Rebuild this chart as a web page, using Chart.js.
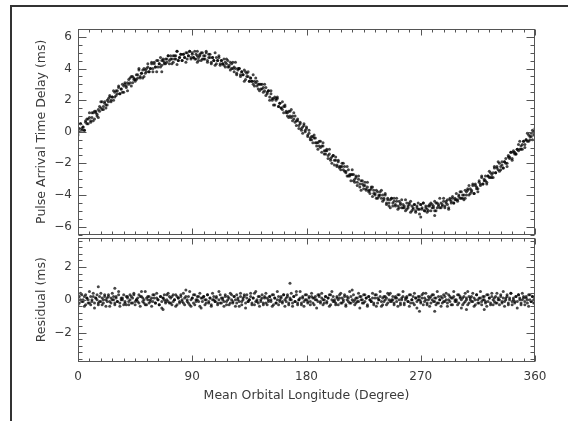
<!DOCTYPE html>
<html>
<head>
<meta charset="utf-8">
<script src="https://cdn.jsdelivr.net/npm/chart.js@4"></script>
<style>
html, body { margin: 0; padding: 0; background: #fff; }
#page { position: relative; width: 568px; height: 421px; overflow: hidden; }
#frame { position: absolute; left: 10px; top: 5px; width: 600px; height: 450px; border-top: 2px solid #333; border-left: 2px solid #333; }
#top { position: absolute; left: 0; top: 0; }
#bot { position: absolute; left: 0; top: 236px; }
</style>
</head>
<body>
<div id="page">
  <div id="frame"></div>
  <canvas id="top" width="568" height="236"></canvas>
  <canvas id="bot" width="568" height="185"></canvas>
</div>
<script>
// mean orbital longitude of each sample (degree)
var longitude = [
  0,1,2,3,4,5,6,7,8,9,10,11,12,13,14,15,16,17,18,19,
  20,21,22,23,24,25,26,27,28,29,30,31,32,33,34,35,36,37,38,39,
  40,41,42,43,44,45,46,47,48,49,50,51,52,53,54,55,56,57,58,59,
  60,61,62,63,64,65,66,67,68,69,70,71,72,73,74,75,76,77,78,79,
  80,81,82,83,84,85,86,87,88,89,90,91,92,93,94,95,96,97,98,99,
  100,101,102,103,104,105,106,107,108,109,110,111,112,113,114,115,116,117,118,119,
  120,121,122,123,124,125,126,127,128,129,130,131,132,133,134,135,136,137,138,139,
  140,141,142,143,144,145,146,147,148,149,150,151,152,153,154,155,156,157,158,159,
  160,161,162,163,164,165,166,167,168,169,170,171,172,173,174,175,176,177,178,179,
  180,181,182,183,184,185,186,187,188,189,190,191,192,193,194,195,196,197,198,199,
  200,201,202,203,204,205,206,207,208,209,210,211,212,213,214,215,216,217,218,219,
  220,221,222,223,224,225,226,227,228,229,230,231,232,233,234,235,236,237,238,239,
  240,241,242,243,244,245,246,247,248,249,250,251,252,253,254,255,256,257,258,259,
  260,261,262,263,264,265,266,267,268,269,270,271,272,273,274,275,276,277,278,279,
  280,281,282,283,284,285,286,287,288,289,290,291,292,293,294,295,296,297,298,299,
  300,301,302,303,304,305,306,307,308,309,310,311,312,313,314,315,316,317,318,319,
  320,321,322,323,324,325,326,327,328,329,330,331,332,333,334,335,336,337,338,339,
  340,341,342,343,344,345,346,347,348,349,350,351,352,353,354,355,356,357,358,359,
  360
];

// pulse arrival time delay (ms), first pass of samples
var delayA = [
  0.2,0.0,0.5,0.1,0.3,0.1,0.6,0.8,0.5,0.9, 0.7,1.2,0.7,1.3,1.2,1.0,1.4,1.3,1.9,1.4,
  1.6,1.9,1.5,2.0,1.9,2.2,1.9,2.2,2.6,2.2, 2.6,2.4,2.8,2.4,2.7,2.5,2.9,3.1,2.8,3.1,
  3.0,3.4,2.9,3.5,3.3,3.2,3.6,3.4,4.0,3.4, 3.7,3.9,3.5,3.9,3.8,4.1,3.8,4.0,4.4,4.0,
  4.4,4.1,4.5,4.1,4.3,4.1,4.5,4.6,4.3,4.6, 4.4,4.8,4.3,4.8,4.6,4.4,4.8,4.6,5.1,4.5,
  4.7,4.9,4.5,4.9,4.7,5.0,4.6,4.8,5.1,4.7, 5.0,4.7,5.1,4.6,4.8,4.5,4.9,5.0,4.6,4.8,
  4.6,5.0,4.4,4.9,4.7,4.4,4.7,4.5,5.0,4.3, 4.5,4.7,4.2,4.5,4.3,4.6,4.1,4.3,4.5,4.1,
  4.4,4.0,4.4,3.8,4.0,3.6,4.0,4.0,3.6,3.8, 3.6,3.9,3.3,3.7,3.5,3.2,3.4,3.2,3.6,2.9,
  3.1,3.2,2.7,3.0,2.7,3.0,2.5,2.6,2.8,2.4, 2.6,2.2,2.6,2.0,2.1,1.7,2.1,2.1,1.6,1.8,
  1.5,1.9,1.2,1.6,1.3,1.0,1.3,1.0,1.4,0.7, 0.8,1.0,0.4,0.7,0.4,0.6,0.1,0.3,0.5,0.0,
  0.2,-0.2,0.1,-0.5,-0.3,-0.7,-0.4,-0.4,-0.9,-0.7, -0.9,-0.6,-1.3,-0.9,-1.2,-1.4,-1.2,-1.5,-1.1,-1.8,
  -1.6,-1.5,-2.1,-1.8,-2.1,-1.8,-2.3,-2.2,-2.0,-2.4, -2.2,-2.6,-2.2,-2.8,-2.7,-3.1,-2.7,-2.7,-3.2,-2.9,
  -3.2,-2.8,-3.5,-3.1,-3.3,-3.6,-3.4,-3.6,-3.2,-3.8, -3.7,-3.5,-4.1,-3.7,-4.0,-3.7,-4.2,-4.0,-3.8,-4.2,
  -4.0,-4.3,-3.9,-4.5,-4.3,-4.7,-4.3,-4.2,-4.7,-4.4, -4.6,-4.2,-4.9,-4.4,-4.6,-4.8,-4.6,-4.8,-4.3,-4.9,
  -4.7,-4.5,-5.1,-4.7,-4.9,-4.6,-5.0,-4.8,-4.5,-4.9, -4.6,-4.9,-4.5,-5.0,-4.8,-5.1,-4.7,-4.6,-5.0,-4.6,
  -4.8,-4.4,-5.0,-4.5,-4.7,-4.8,-4.5,-4.7,-4.2,-4.7, -4.5,-4.3,-4.8,-4.3,-4.5,-4.2,-4.5,-4.3,-3.9,-4.3,
  -4.0,-4.2,-3.8,-4.2,-4.0,-4.2,-3.8,-3.6,-4.0,-3.6, -3.8,-3.3,-3.9,-3.3,-3.5,-3.6,-3.2,-3.4,-2.8,-3.3,
  -3.1,-2.8,-3.3,-2.8,-2.9,-2.6,-2.9,-2.6,-2.2,-2.6, -2.2,-2.4,-2.0,-2.4,-2.1,-2.3,-1.9,-1.7,-2.0,-1.6,
  -1.7,-1.3,-1.8,-1.2,-1.3,-1.4,-1.1,-1.2,-0.6,-1.1, -0.8,-0.6,-1.0,-0.5,-0.6,-0.2,-0.5,-0.3,0.1,-0.2,
  0.2
];

// pulse arrival time delay (ms), second pass of samples
var delayB = [
  -0.2,0.2,0.5,0.2,0.3,0.1,0.7,0.5,0.8,1.2, 0.6,0.9,1.2,0.8,1.3,1.1,0.9,1.6,1.5,1.9,
  1.4,1.8,1.7,1.7,2.1,2.3,2.0,2.2,2.0,2.5, 2.3,2.6,2.9,2.4,2.7,3.0,2.5,3.0,2.9,2.6,
  3.3,3.1,3.5,3.1,3.4,3.3,3.3,3.6,3.9,3.5, 3.7,3.4,4.0,3.7,4.0,4.3,3.8,4.0,4.3,3.8,
  4.3,4.1,3.8,4.5,4.3,4.7,4.2,4.5,4.4,4.3, 4.6,4.8,4.5,4.6,4.3,4.8,4.6,4.8,5.1,4.5,
  4.7,4.9,4.5,4.9,4.7,4.4,5.0,4.8,5.1,4.6, 4.9,4.7,4.6,4.9,5.1,4.7,4.8,4.5,5.0,4.6,
  4.8,5.1,4.5,4.7,4.9,4.3,4.7,4.5,4.2,4.7, 4.5,4.8,4.3,4.5,4.3,4.2,4.4,4.6,4.1,4.2,
  3.9,4.3,4.0,4.1,4.4,3.7,3.9,4.0,3.5,3.8, 3.6,3.2,3.8,3.5,3.8,3.2,3.4,3.2,3.0,3.2,
  3.4,2.9,3.0,2.6,3.0,2.7,2.8,3.0,2.3,2.5, 2.6,2.0,2.4,2.1,1.7,2.2,2.0,2.2,1.6,1.8,
  1.5,1.4,1.6,1.7,1.2,1.2,0.9,1.3,0.9,1.0, 1.2,0.6,0.7,0.8,0.2,0.5,0.2,-0.1,0.4,0.1,
  0.3,-0.3,-0.1,-0.4,-0.5,-0.3,-0.2,-0.7,-0.7,-1.1, -0.6,-1.0,-0.9,-0.7,-1.4,-1.2,-1.1,-1.7,-1.4,-1.7,
  -2.0,-1.5,-1.8,-1.6,-2.2,-1.9,-2.2,-2.4,-2.2,-2.0, -2.5,-2.5,-2.8,-2.4,-2.8,-2.7,-2.4,-3.1,-3.0,-2.8,
  -3.4,-3.0,-3.3,-3.7,-3.1,-3.4,-3.2,-3.7,-3.5,-3.7, -3.9,-3.6,-3.5,-3.9,-3.9,-4.2,-3.8,-4.1,-4.0,-3.7,
  -4.4,-4.2,-4.0,-4.6,-4.2,-4.5,-4.8,-4.2,-4.5,-4.2, -4.7,-4.4,-4.7,-4.8,-4.5,-4.3,-4.8,-4.7,-5.0,-4.5,
  -4.8,-4.6,-4.4,-5.0,-4.8,-4.6,-5.1,-4.7,-4.9,-5.2, -4.6,-4.8,-4.5,-5.0,-4.7,-4.9,-5.0,-4.7,-4.5,-4.8,
  -4.7,-5.0,-4.5,-4.8,-4.6,-4.2,-4.8,-4.6,-4.4,-4.8, -4.4,-4.6,-4.9,-4.2,-4.4,-4.1,-4.5,-4.2,-4.3,-4.4,
  -4.1,-3.8,-4.2,-4.0,-4.3,-3.7,-4.0,-3.7,-3.4,-3.9, -3.7,-3.4,-3.9,-3.4,-3.6,-3.8,-3.1,-3.3,-2.9,-3.3,
  -3.0,-3.1,-3.2,-2.8,-2.5,-2.9,-2.7,-2.9,-2.3,-2.6, -2.3,-1.9,-2.5,-2.2,-1.9,-2.3,-1.9,-2.0,-2.2,-1.5,
  -1.6,-1.3,-1.7,-1.3,-1.4,-1.4,-1.1,-0.8,-1.1,-0.9, -1.1,-0.6,-0.8,-0.5,-0.1,-0.6,-0.3,-0.1,-0.5,0.0,
  -0.1
];

// residual after fit (ms), first pass
var residualA = [
  0.1,-0.2,0.0,0.3,-0.1,0.2,-0.3,0.1,0.0,-0.2,0.2,-0.1,0.4,-0.2,0.1,0.0,-0.3,0.2,-0.1,0.1,-0.2,0.3,0.0,-0.1,0.2,-0.4,0.1,0.0,0.2,-0.2,0.1,-0.1,0.3,-0.2,0.0,0.1,-0.3,
  -0.1,0.2,0.1,-0.3,0.0,0.2,-0.2,0.3,-0.1,0.0,0.1,-0.2,0.2,0.5,-0.1,0.0,-0.3,0.1,0.2,-0.2,0.0,0.1,-0.1,0.3,-0.2,0.1,0.0,-0.3,0.2,-0.1,0.1,0.0,-0.2,0.3,-0.1,0.2,-0.2,
  0.2,-0.1,0.0,0.3,-0.3,0.1,-0.1,0.2,0.0,-0.2,0.1,0.6,-0.1,0.2,-0.3,0.0,0.1,-0.2,0.3,-0.1,0.0,0.2,-0.4,0.1,-0.1,0.2,0.0,-0.2,0.3,-0.1,0.1,-0.3,0.0,0.2,-0.1,0.1,-0.2,
  0.0,0.3,-0.2,0.1,-0.1,0.2,-0.3,0.0,0.1,-0.2,0.3,-0.1,0.2,0.0,-0.2,0.1,-0.4,0.2,-0.1,0.0,0.3,-0.2,0.1,-0.1,0.0,0.2,-0.3,0.1,0.4,-0.1,0.0,-0.2,0.2,-0.1,0.1,-0.3,0.2,
  -0.2,0.1,0.0,0.2,-0.1,0.3,-0.3,0.1,-0.2,0.0,0.2,-0.1,0.1,-0.2,0.3,0.0,-0.1,0.2,-0.3,0.1,0.0,-0.2,0.2,-0.1,0.5,-0.2,0.0,0.1,-0.3,0.2,-0.1,0.0,0.3,-0.2,0.1,-0.1,0.2,
  0.1,-0.3,0.2,0.0,-0.1,0.3,-0.2,0.1,0.0,-0.2,0.2,-0.1,0.1,0.3,-0.3,0.0,0.2,-0.1,-0.2,0.1,0.0,0.3,-0.2,0.1,-0.1,0.2,-0.3,0.0,0.1,-0.2,0.2,0.6,-0.1,0.0,-0.2,0.1,-0.1,
  0.2,0.0,-0.2,0.3,-0.1,0.1,-0.3,0.2,0.0,-0.1,0.1,-0.2,0.3,-0.4,0.1,0.0,0.2,-0.1,-0.3,0.2,0.0,0.1,-0.2,0.3,-0.1,0.0,0.2,-0.2,0.1,-0.1,0.3,0.0,-0.3,0.1,0.2,-0.2,0.0,
  0.1,-0.1,0.3,-0.2,0.0,0.2,-0.3,0.1,-0.1,0.0,0.2,-0.2,0.1,0.4,-0.1,0.0,-0.3,0.2,0.1,-0.2,0.0,0.3,-0.1,0.1,-0.2,0.2,0.0,-0.4,0.1,-0.1,0.2,0.0,-0.2,0.3,-0.1,0.1,-0.3,
  0.2,0.0,-0.1,0.3,-0.2,0.1,0.0,-0.3,0.2,-0.1,0.1,0.5,-0.2,0.0,0.2,-0.1,0.1,-0.3,0.3,0.0,-0.2,0.1,-0.1,0.2,0.0,-0.2,0.3,-0.1,0.1,-0.3,0.2,0.0,-0.1,0.2,-0.2,0.1,0.0,
  0.3,-0.2,0.1,-0.1,0.0,0.2,-0.3,0.1,0.4,-0.1,0.0,-0.2,0.2,-0.1,0.3,0.1,-0.3,0.0,0.2,-0.1,0.1,-0.2,0.3,0.0,-0.1,0.2,-0.2,0.1
];

// residual after fit (ms), second pass
var residualB = [
  -0.3,0.2,0.4,-0.1,0.0,-0.4,0.3,0.1,-0.2,0.5,-0.3,0.0,0.2,-0.5,0.1,0.3,-0.2,-0.1,0.4,-0.3,0.0,0.2,-0.4,0.1,0.3,-0.1,-0.2,0.4,0.0,-0.3,0.2,-0.1,0.5,-0.4,0.1,0.0,0.3,-0.2,-0.3,0.2,-0.1,
  0.3,-0.2,0.1,0.4,-0.3,0.0,-0.1,0.3,-0.4,0.2,0.1,-0.2,0.5,-0.3,0.0,0.2,-0.1,-0.4,0.3,0.1,-0.2,0.4,0.0,-0.3,0.2,-0.5,0.1,0.3,-0.1,0.0,0.4,-0.2,0.1,-0.3,0.3,0.0,-0.4,0.2,0.1,-0.2,0.3,
  -0.1,0.4,-0.3,0.2,0.0,-0.2,0.5,-0.4,0.1,0.3,-0.3,0.0,0.2,-0.1,0.4,-0.5,0.1,0.2,-0.3,0.0,0.3,-0.2,0.1,-0.4,0.4,0.0,-0.1,0.2,-0.3,0.5,-0.2,0.1,0.0,-0.4,0.3,-0.1,0.2,-0.3,0.4,0.0,-0.2,
  0.2,-0.4,0.3,0.0,-0.1,0.4,-0.3,0.1,0.2,-0.5,0.3,-0.1,0.0,0.4,-0.2,0.1,-0.3,0.5,-0.1,0.2,-0.4,0.0,0.3,-0.2,0.1,0.4,-0.3,-0.1,0.2,0.0,-0.4,0.3,0.1,-0.2,0.5,-0.3,0.0,0.2,-0.1,0.3,-0.4,
  0.1,0.3,-0.2,0.0,0.4,-0.4,0.2,-0.1,0.3,-0.3,0.0,0.5,-0.2,0.1,-0.4,0.3,0.0,-0.1,0.2,-0.3,0.4,-0.2,0.1,0.0,-0.5,0.3,0.2,-0.1,0.4,-0.3,0.0,0.2,-0.2,0.1,-0.4,0.3,0.5,-0.1,0.0,-0.3,0.2,
  -0.3,0.1,0.4,-0.2,0.0,0.3,-0.4,0.2,-0.1,0.5,-0.2,0.0,0.3,-0.3,0.1,-0.1,0.4,-0.5,0.2,0.0,-0.2,0.3,0.1,-0.4,0.2,0.0,-0.1,0.4,-0.3,0.1,0.3,-0.2,0.0,0.5,-0.4,0.1,-0.1,0.2,-0.3,0.4,0.0,
  0.4,-0.1,0.0,-0.3,0.2,0.1,-0.4,0.3,-0.2,0.0,0.5,-0.3,0.1,0.2,-0.1,-0.4,0.3,0.0,-0.2,0.4,0.1,-0.5,0.2,0.0,-0.1,0.3,-0.3,0.1,0.4,-0.2,0.0,-0.4,0.2,0.3,-0.1,0.1,-0.3,0.5,-0.2,0.0,0.2,
  -0.2,0.3,-0.1,0.4,-0.4,0.0,0.2,-0.3,0.1,0.5,-0.1,0.0,-0.3,0.3,0.2,-0.5,0.1,-0.2,0.4,0.0,-0.3,0.2,0.1,-0.1,0.4,-0.4,0.0,0.3,-0.2,0.1,0.5,-0.3,0.0,0.2,-0.1,-0.4,0.3,0.1,-0.2,0.4,-0.3,
  0.1,-0.2,0.4,0.0,-0.3,0.2,-0.1,0.5,-0.4,0.1,0.3,-0.2,0.0,0.4,-0.3,0.1,-0.1,0.2,-0.5,0.3,0.0,-0.2,0.4,0.1,-0.3,0.2,0.0,-0.4,0.3,-0.1,0.2,0.0,-0.2
];

// stray points off the main band
var delayOutLon = [66, 78, 94, 270, 281];
var delayOutVal = [3.8, 4.25, 4.4, -5.4, -5.3];
var resOutLon = [16, 29, 67, 167, 269, 281, 306, 320];
var resOutVal = [0.8, 0.7, -0.6, 1.0, -0.7, -0.7, -0.6, -0.6];

// axis ticks
var xMajorTicks = [0, 90, 180, 270, 360];
var delayTicks = [-6, -4, -2, 0, 2, 4, 6];
var residualTicks = [-2, 0, 2];

var tickFont = { family: 'DejaVu Sans', size: 12 };
var titleFont = { family: 'DejaVu Sans', size: 12.5 };
var textColor = '#3a3a3a';

function pairs(xs, ys) {
  var out = [];
  for (var i = 0; i < xs.length && i < ys.length; i++) out.push({ x: xs[i], y: ys[i] });
  return out;
}

function fmt(v) {
  return v < 0 ? '\u2212' + Math.abs(v) : String(v);
}

var dots = {
  showLine: false,
  pointRadius: 1.5,
  pointHoverRadius: 0,
  backgroundColor: 'rgba(0,0,0,0.72)',
  borderWidth: 0
};

// box round the plot with inward ticks on all four sides (IDL style)
var frameTicks = {
  id: 'frameTicks',
  afterDatasetsDraw: function (chart, args, o) {
    var ctx = chart.ctx, a = chart.chartArea, x = chart.scales.x, y = chart.scales.y;
    var L = Math.round(a.left) + 0.5, R = Math.round(a.right) - 0.5;
    var T = Math.round(a.top) + 0.5, B = Math.round(a.bottom) - 0.5;
    ctx.save();
    ctx.strokeStyle = '#555';
    ctx.lineWidth = 1;
    ctx.strokeRect(L, T, R - L, B - T);
    ctx.beginPath();
    var k, v, p, len;
    for (k = Math.ceil(x.min / o.xMinor - 1e-9); k * o.xMinor <= x.max + 1e-9; k++) {
      v = k * o.xMinor;
      p = Math.round(x.getPixelForValue(v)) + 0.5;
      len = xMajorTicks.indexOf(v) >= 0 ? 6 : 3;
      ctx.moveTo(p, T); ctx.lineTo(p, T + len);
      ctx.moveTo(p, B); ctx.lineTo(p, B - len);
    }
    for (k = Math.ceil(y.min / o.yMinor - 1e-9); k * o.yMinor <= y.max + 1e-9; k++) {
      v = k * o.yMinor;
      p = Math.round(y.getPixelForValue(v)) + 0.5;
      len = o.yMajor.some(function (m) { return Math.abs(m - v) < 1e-6; }) ? 8 : 4;
      ctx.moveTo(L, p); ctx.lineTo(L + len, p);
      ctx.moveTo(R, p); ctx.lineTo(R - len, p);
    }
    ctx.stroke();
    ctx.restore();
  }
};

function yAxis(min, max, ticks, title) {
  return {
    min: min, max: max,
    afterBuildTicks: function (s) { s.ticks = ticks.map(function (v) { return { value: v }; }); },
    afterFit: function (s) { s.width = 78; s.paddingTop = 0; s.paddingBottom = 0; },
    grid: { display: false, drawTicks: false },
    border: { display: false },
    ticks: { padding: 6, color: textColor, font: tickFont, callback: fmt },
    title: { display: true, text: title, color: textColor, font: titleFont, padding: { top: 34, bottom: 0 } }
  };
}

new Chart(document.getElementById('top'), {
  type: 'scatter',
  data: {
    datasets: [
      Object.assign({ data: pairs(longitude, delayA) }, dots),
      Object.assign({ data: pairs(longitude, delayB) }, dots),
      Object.assign({ data: pairs(delayOutLon, delayOutVal) }, dots)
    ]
  },
  options: {
    responsive: false, animation: false, devicePixelRatio: 1,
    layout: { padding: { top: 29, right: 33, left: 0, bottom: 0 } },
    plugins: {
      legend: { display: false }, tooltip: { enabled: false },
      frameTicks: { xMinor: 9, yMinor: 0.5, yMajor: delayTicks }
    },
    scales: {
      x: { type: 'linear', min: 0, max: 360, display: false },
      y: yAxis(-6.5, 6.5, delayTicks, 'Pulse Arrival Time Delay (ms)')
    }
  },
  plugins: [frameTicks]
});

new Chart(document.getElementById('bot'), {
  type: 'scatter',
  data: {
    datasets: [
      Object.assign({ data: pairs(longitude, residualA) }, dots),
      Object.assign({ data: pairs(longitude, residualB) }, dots),
      Object.assign({ data: pairs(resOutLon, resOutVal) }, dots)
    ]
  },
  options: {
    responsive: false, animation: false, devicePixelRatio: 1,
    layout: { padding: { top: 0, right: 33, left: 0, bottom: 0 } },
    plugins: {
      legend: { display: false }, tooltip: { enabled: false },
      frameTicks: { xMinor: 9, yMinor: 0.4, yMajor: residualTicks }
    },
    scales: {
      x: {
        type: 'linear', min: 0, max: 360,
        afterBuildTicks: function (s) { s.ticks = xMajorTicks.map(function (v) { return { value: v }; }); },
        afterFit: function (s) { s.height = 59; s.paddingLeft = 0; s.paddingRight = 0; },
        grid: { display: false, drawTicks: false },
        border: { display: false },
        ticks: { padding: 8, color: textColor, font: tickFont, maxRotation: 0 },
        title: { display: true, text: 'Mean Orbital Longitude (Degree)', color: textColor, font: titleFont, padding: { top: 0, bottom: 18 } }
      },
      y: yAxis(-3.8, 3.8, residualTicks, 'Residual (ms)')
    }
  },
  plugins: [frameTicks]
});
</script>
</body>
</html>
